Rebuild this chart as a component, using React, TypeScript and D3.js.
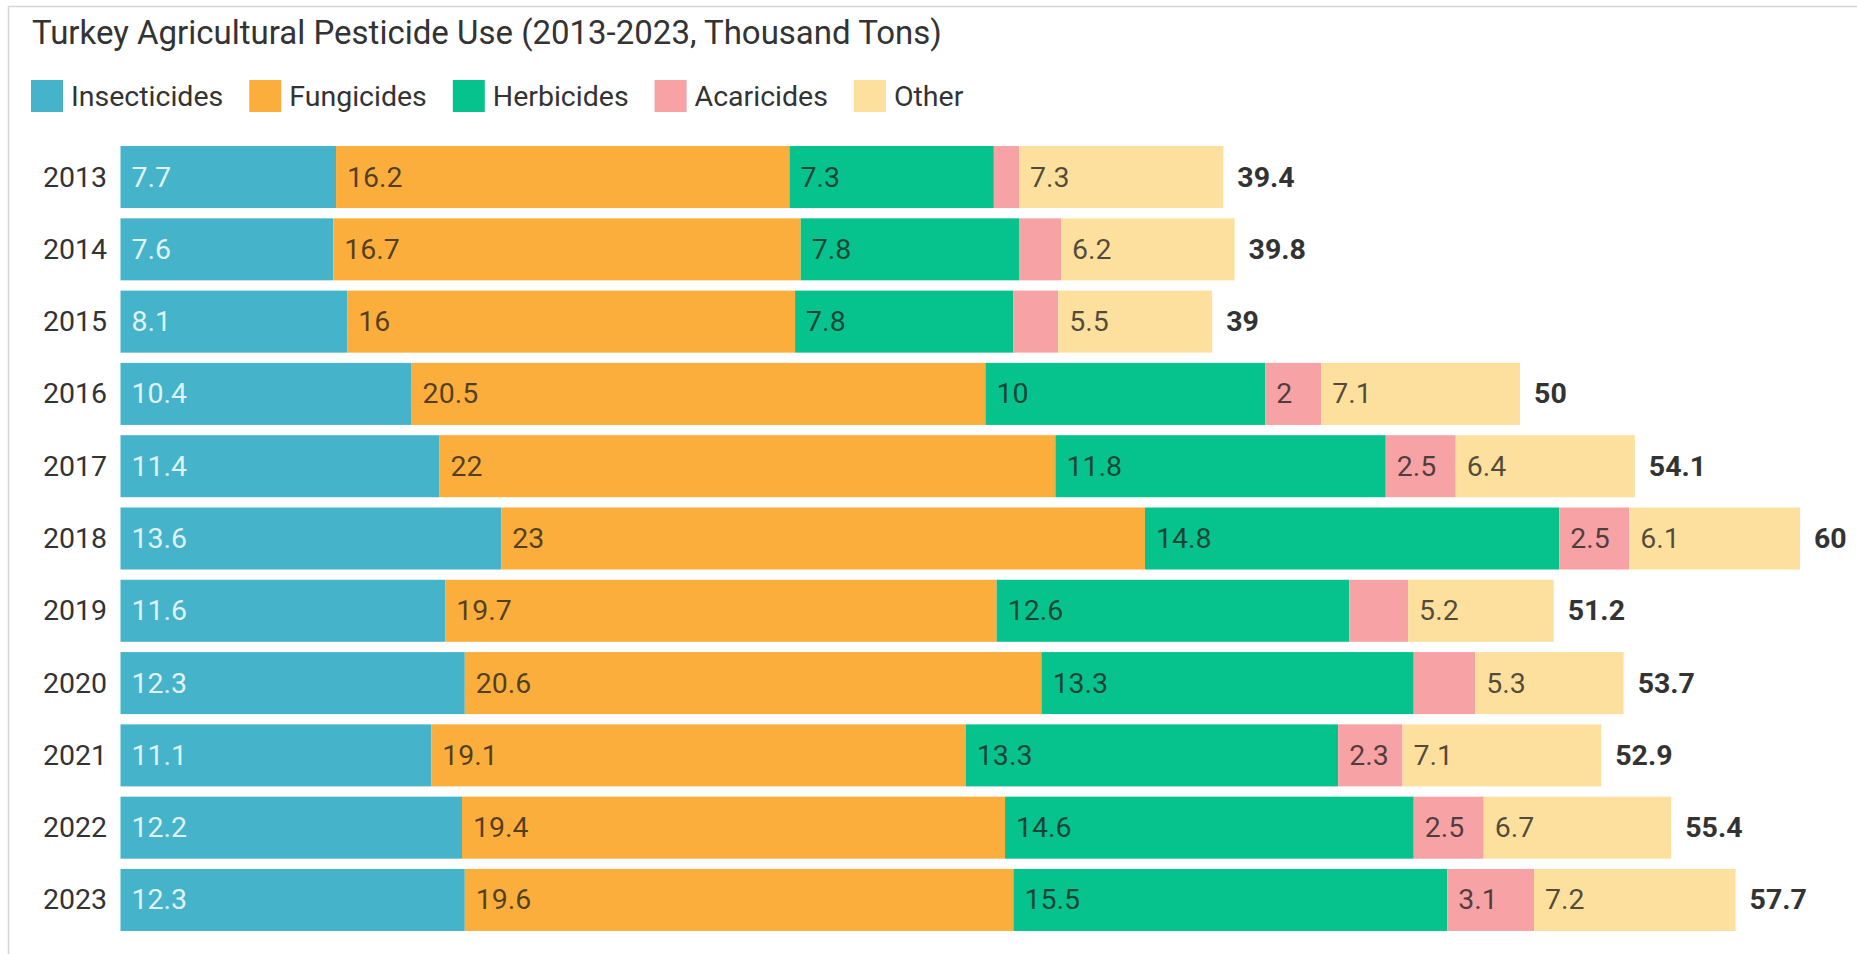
import React, { useEffect, useRef } from "react";
import * as d3 from "d3";

const years = ["2013", "2014", "2015", "2016", "2017", "2018", "2019", "2020", "2021", "2022", "2023"];
const insecticides = [7.7, 7.6, 8.1, 10.4, 11.4, 13.6, 11.6, 12.3, 11.1, 12.2, 12.3];
const fungicides = [16.2, 16.7, 16, 20.5, 22, 23, 19.7, 20.6, 19.1, 19.4, 19.6];
const herbicides = [7.3, 7.8, 7.8, 10, 11.8, 14.8, 12.6, 13.3, 13.3, 14.6, 15.5];
const acaricides = [0.9, 1.5, 1.6, 2, 2.5, 2.5, 2.1, 2.2, 2.3, 2.5, 3.1];
const other = [7.3, 6.2, 5.5, 7.1, 6.4, 6.1, 5.2, 5.3, 7.1, 6.7, 7.2];

const seriesNames = ["Insecticides", "Fungicides", "Herbicides", "Acaricides", "Other"];
const seriesColors = ["#45B4CA", "#FBAE3C", "#06C28C", "#F7A3A6", "#FDE09E"];
const title = "Turkey Agricultural Pesticide Use (2013-2023, Thousand Tons)";

const W = 1857;
const H = 954;
const FONT = "Roboto, 'Noto Sans', sans-serif";
const FS = 28.5;

export default function App() {
  const ref = useRef<SVGSVGElement | null>(null);

  useEffect(() => {
    const svg = d3.select(ref.current);
    svg.selectAll("*").remove();

    const seriesValues = [insecticides, fungicides, herbicides, acaricides, other];
    const rows = years.map((y, i) => {
      const r: any = { year: y };
      seriesNames.forEach((s, k) => (r[s] = seriesValues[k][i]));
      return r;
    });
    const stacked = d3.stack().keys(seriesNames)(rows as any);

    const x = d3.scaleLinear().domain([0, 60]).range([120.5, 1800]);
    const y = d3
      .scaleBand<string>()
      .domain(years)
      .range([140.9, 936.1])
      .paddingInner(0.142)
      .paddingOuter(0.071);

    svg.append("rect").attr("x", 0).attr("y", 0).attr("width", W).attr("height", H).attr("fill", "#fff");
    svg
      .append("rect")
      .attr("x", 8.5)
      .attr("y", 6.5)
      .attr("width", 1900)
      .attr("height", 1000)
      .attr("fill", "none")
      .attr("stroke", "#d6d6d6")
      .attr("stroke-width", 1.5);

    svg
      .append("text")
      .attr("x", 32)
      .attr("y", 44)
      .attr("font-family", FONT)
      .attr("font-size", 33)
      .attr("fill", "#333")
      .text(title);

    // legend
    const legend = svg.append("g");
    let lx = 31;
    seriesNames.forEach((name, k) => {
      legend
        .append("rect")
        .attr("x", lx)
        .attr("y", 80)
        .attr("width", 32)
        .attr("height", 32)
        .attr("fill", seriesColors[k]);
      const t = legend
        .append("text")
        .attr("x", lx + 40)
        .attr("y", 96)
        .attr("dominant-baseline", "central")
        .attr("font-family", FONT)
        .attr("font-size", FS)
        .attr("fill", "#333")
        .text(name);
      const w = (t.node() as SVGTextElement).getComputedTextLength();
      lx = lx + 40 + w + 26;
    });

    // year labels
    svg
      .append("g")
      .selectAll("text")
      .data(years)
      .join("text")
      .attr("x", 107)
      .attr("y", (d) => (y(d) as number) + y.bandwidth() / 2)
      .attr("text-anchor", "end")
      .attr("dominant-baseline", "central")
      .attr("font-family", FONT)
      .attr("font-size", FS)
      .attr("fill", "#333")
      .text((d) => d);

    const fmt = (v: number) => String(Math.round(v * 10) / 10);
    const estWidth = (s: string) =>
      s.split("").reduce((a, c) => a + (c === "." ? 0.26 : 0.562), 0) * 26;

    stacked.forEach((layer, k) => {
      const g = svg.append("g");
      g.selectAll("rect")
        .data(layer)
        .join("rect")
        .attr("x", (d) => x(d[0]))
        .attr("y", (d: any) => y(d.data.year) as number)
        .attr("width", (d) => x(d[1]) - x(d[0]))
        .attr("height", y.bandwidth())
        .attr("fill", seriesColors[k]);
      g.selectAll("text")
        .data(layer.filter((d) => x(d[1]) - x(d[0]) >= estWidth(fmt(d[1] - d[0])) + 27))
        .join("text")
        .attr("x", (d) => x(d[0]) + 11)
        .attr("y", (d: any) => (y(d.data.year) as number) + y.bandwidth() / 2)
        .attr("dominant-baseline", "central")
        .attr("font-family", FONT)
        .attr("font-size", FS)
        .attr("fill", k === 0 ? "#ffffff" : "#1a1a1a")
        .attr("fill-opacity", k === 0 ? 0.85 : 0.75)
        .text((d) => fmt(d[1] - d[0]));
    });

    // totals
    const last = stacked[stacked.length - 1];
    svg
      .append("g")
      .selectAll("text")
      .data(last)
      .join("text")
      .attr("x", (d) => x(d[1]) + 14)
      .attr("y", (d: any) => (y(d.data.year) as number) + y.bandwidth() / 2)
      .attr("dominant-baseline", "central")
      .attr("font-family", FONT)
      .attr("font-size", FS)
      .attr("font-weight", "bold")
      .attr("fill", "#333")
      .text((d) => fmt(d[1]));
  }, []);

  return (
    <svg
      ref={ref}
      width={W}
      height={H}
      style={{ position: "absolute", left: 0, top: 0, display: "block" }}
    />
  );
}
